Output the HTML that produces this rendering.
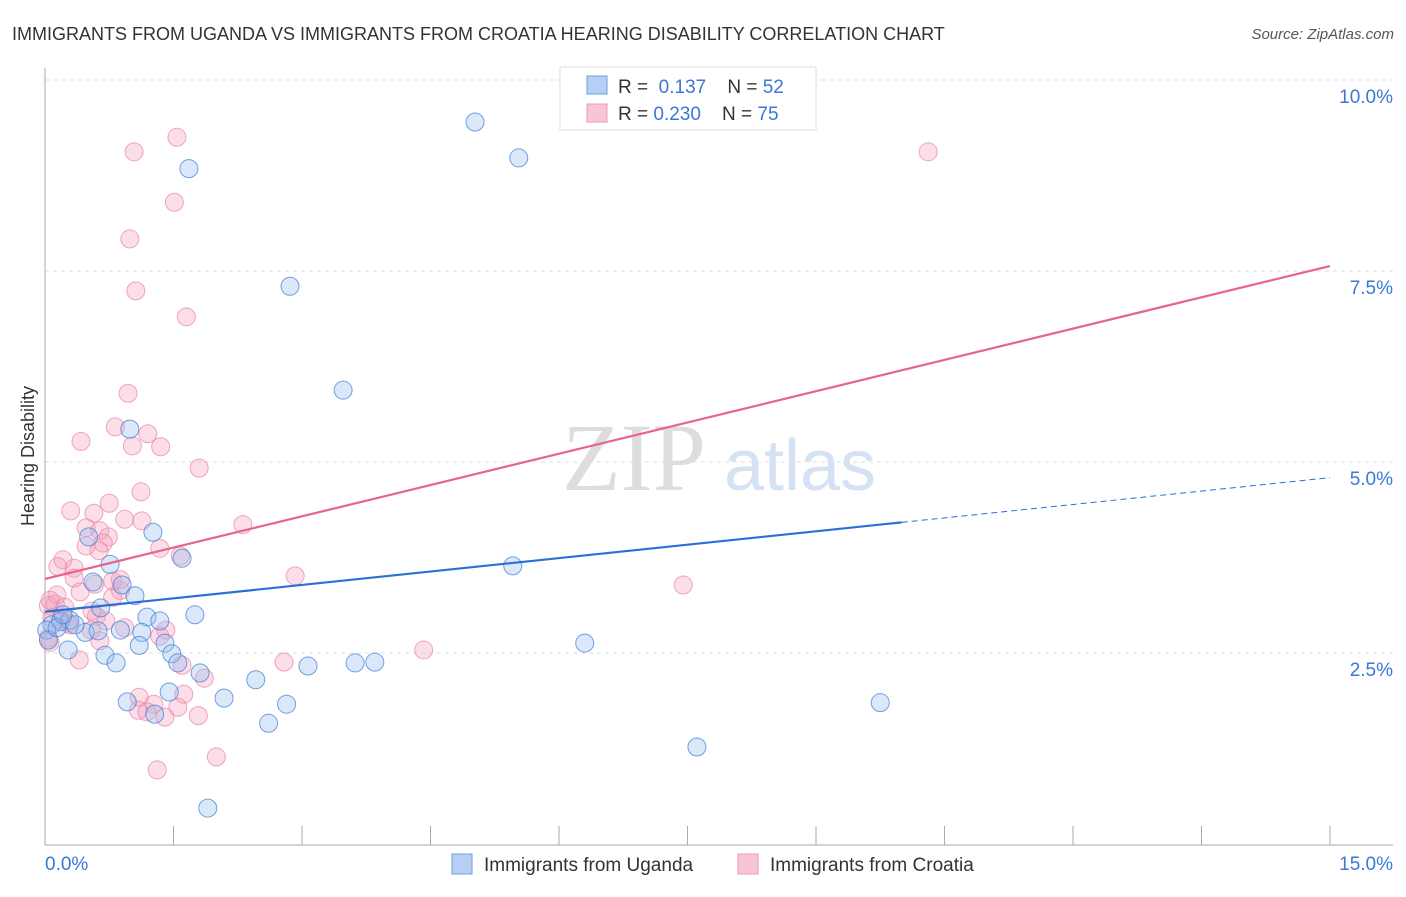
<!DOCTYPE html>
<html><head><meta charset="utf-8"><style>
body{margin:0;background:#fff;font-family:"Liberation Sans",sans-serif}
svg text{font-family:"Liberation Sans",sans-serif}
</style></head><body>
<svg id="c" width="1406" height="892">
<text x="12" y="40" font-size="18" fill="#333">IMMIGRANTS FROM UGANDA VS IMMIGRANTS FROM CROATIA HEARING DISABILITY CORRELATION CHART</text>
<text x="1394" y="39" font-size="15" fill="#555" font-style="italic" text-anchor="end">Source: ZipAtlas.com</text>
<text x="0" y="0" transform="translate(34,456) rotate(-90)" font-size="18" fill="#333" text-anchor="middle">Hearing Disability</text>
<text x="634" y="490" font-size="96" fill="#ddd" font-family="Liberation Serif" text-anchor="middle" style="font-family:'Liberation Serif',serif">ZIP</text>
<text x="800" y="490" font-size="72" fill="#d5e2f3" text-anchor="middle">atlas</text>
<g id="grid"></g><g id="axes"></g><g id="pts"></g><g id="lines"></g>
<g>
<rect x="560" y="67" width="256" height="63" fill="#fff" stroke="#ddd"/>
<rect x="587" y="76" width="20" height="18" fill="#b6d0f3" stroke="#6d9ee0"/>
<rect x="587" y="104" width="20" height="18" fill="#f8c5d5" stroke="#ec9ab5"/>
<text x="618" y="93" font-size="19" fill="#333">R = <tspan fill="#3a77d6">&#160;0.137</tspan>&#160;&#160;&#160;&#160;N = <tspan fill="#3a77d6">52</tspan></text>
<text x="618" y="120" font-size="19" fill="#333">R = <tspan fill="#3a77d6">0.230</tspan>&#160;&#160;&#160;&#160;N = <tspan fill="#3a77d6">75</tspan></text>
</g>
<g>
<rect x="452" y="854" width="20" height="20" fill="#b6d0f3" stroke="#6d9ee0"/>
<text x="484" y="871" font-size="19" fill="#333">Immigrants from Uganda</text>
<rect x="738" y="854" width="20" height="20" fill="#f8c5d5" stroke="#ec9ab5"/>
<text x="770" y="871" font-size="19" fill="#333">Immigrants from Croatia</text>
</g>
</svg>
<script>
const ugandaX=[1.68,5.02,5.53,2.86,3.48,0.99,1.26,1.60,0.76,0.51,0.56,0.90,1.05,0.65,1.19,1.75,1.34,0.08,0.18,0.29,0.02,0.47,0.62,0.88,1.13,1.10,1.40,1.48,0.27,0.70,0.83,1.55,1.81,2.46,3.07,3.62,3.85,5.46,6.30,1.45,0.96,2.09,1.28,2.82,2.61,7.61,9.75,1.90,0.04,0.14,0.35,0.21];
const ugandaY=[8.84,9.45,8.98,7.30,5.94,5.43,4.08,3.74,3.66,4.02,3.43,3.39,3.25,3.09,2.97,3.00,2.92,2.87,2.91,2.93,2.80,2.77,2.79,2.80,2.77,2.60,2.63,2.49,2.54,2.47,2.37,2.37,2.24,2.15,2.33,2.37,2.38,3.64,2.63,1.99,1.86,1.91,1.70,1.83,1.58,1.27,1.85,0.47,2.67,2.83,2.87,3.00];
const croatiaX=[1.54,1.04,10.31,1.51,0.99,1.06,1.65,0.97,0.82,1.20,0.42,1.02,1.35,1.80,1.12,0.75,0.30,0.57,0.93,1.13,2.31,0.48,0.64,0.74,0.68,0.48,0.63,1.34,0.21,1.58,0.15,0.34,0.34,2.92,7.45,0.79,0.88,0.41,0.14,0.79,0.04,0.12,0.23,0.55,0.60,0.18,0.27,0.08,1.41,1.34,0.54,0.04,0.06,0.64,4.42,0.40,1.60,2.79,1.86,1.62,1.10,1.27,1.55,1.09,1.19,1.40,1.79,2.00,1.31,0.93,0.71,0.58,0.88,0.29,0.06];
const croatiaY=[9.25,9.06,9.06,8.40,7.92,7.24,6.90,5.90,5.46,5.37,5.27,5.21,5.20,4.92,4.61,4.46,4.36,4.33,4.25,4.23,4.18,4.14,4.10,4.02,3.94,3.90,3.84,3.87,3.72,3.77,3.63,3.61,3.48,3.51,3.39,3.44,3.32,3.30,3.26,3.23,3.12,3.14,3.10,3.05,2.98,2.93,2.89,2.96,2.80,2.72,2.80,2.70,2.64,2.66,2.54,2.41,2.34,2.38,2.17,1.96,1.92,1.83,1.79,1.75,1.73,1.66,1.68,1.14,0.97,2.83,2.92,3.40,3.46,2.87,3.19];
const yTicks=[2.5,5,7.5,10];
const yTickLabels=["2.5%","5.0%","7.5%","10.0%"];
const xTickLabels=["0.0%","15.0%"];
const ugandaTrend=[3.04,0.117];
const croatiaTrend=[3.47,0.273];
const NS='http://www.w3.org/2000/svg';
const X=v=>45+v/15*1285, Y=v=>844-v/2.5*191;
function mk(tag,at,parent){const e=document.createElementNS(NS,tag);for(const k in at)e.setAttribute(k,at[k]);document.getElementById(parent).appendChild(e);return e;}
yTicks.forEach((t,i)=>{
 const l=mk('line',{x1:45,x2:1393,y1:Y(t),y2:Y(t),stroke:'#ddd','stroke-dasharray':'4,4'},'grid');
 
 
 const tx=mk('text',{x:1393,y:Y(t)+23,'font-size':19,fill:'#3a77d6','text-anchor':'end'},'grid');
 tx.textContent=yTickLabels[i];
 
 
});
const ax=mk('line',{x1:45,x2:45,y1:68,y2:845,stroke:'#aaa'},'axes');


const bx=mk('line',{x1:45,x2:1393,y1:845,y2:845,stroke:'#aaa'},'axes');


for(let i=0;i<=10;i++){
 const t=mk('line',{x1:X(i*1.5),x2:X(i*1.5),y1:826,y2:845,stroke:'#aaa'},'axes');
 
 
}
[[0,45,'start'],[15,1393,'end']].forEach((d,i)=>{
 const t=mk('text',{x:d[1],y:870,'font-size':19,fill:'#3a77d6','text-anchor':d[2]},'axes');
 t.textContent=xTickLabels[i];
 
 
});
croatiaX.forEach((x,i)=>{
 const c=mk('circle',{cx:X(x),cy:Y(croatiaY[i]),r:9,fill:'rgba(244,160,188,0.35)',stroke:'rgba(236,130,165,0.7)'},'pts');
 
 
});
ugandaX.forEach((x,i)=>{
 const c=mk('circle',{cx:X(x),cy:Y(ugandaY[i]),r:9,fill:'rgba(150,190,240,0.35)',stroke:'rgba(70,130,215,0.75)'},'pts');
 
 
});
const f=(t,x)=>t[0]+t[1]*x;
let l1=mk('line',{x1:X(0),y1:Y(f(ugandaTrend,0)),x2:X(10),y2:Y(f(ugandaTrend,10)),stroke:'#2a6fd6','stroke-width':2.2},'lines');


let l2=mk('line',{x1:X(10),y1:Y(f(ugandaTrend,10)),x2:X(15),y2:Y(f(ugandaTrend,15)),stroke:'#2a6fd6','stroke-width':1,'stroke-dasharray':'6,4'},'lines');


let l3=mk('line',{x1:X(0),y1:Y(f(croatiaTrend,0)),x2:X(15),y2:Y(f(croatiaTrend,15)),stroke:'#e8648f','stroke-width':2.2},'lines');


</script>
</body></html>
